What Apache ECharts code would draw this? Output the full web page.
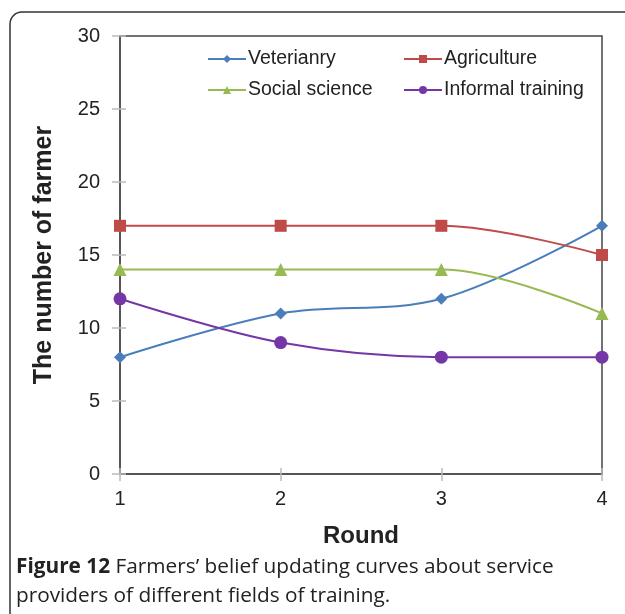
<!DOCTYPE html>
<html><head><meta charset="utf-8">
<script src="https://cdn.jsdelivr.net/npm/echarts@6/dist/echarts.min.js"></script>
<style>html,body{margin:0;padding:0;background:#fff}#c{width:625px;height:614px}</style>
</head><body><div id="c"></div>
<script>
const rounds = ['1','2','3','4'];
const veterinary = [8, 11, 12, 17];
const agriculture = [17, 17, 17, 15];
const socialScience = [14, 14, 14, 11];
const informalTraining = [12, 9, 8, 8];
const seriesNames = ['Veterianry','Agriculture','Social science','Informal training'];
const colors = ['#4a7ebb','#be4b48','#98b954','#7536a6'];
const symbols = ['diamond','rect','triangle','circle'];
const values = [veterinary, agriculture, socialScience, informalTraining];

const chart = echarts.init(document.getElementById('c'), null, {renderer:'canvas'});
const font = '"Liberation Sans", Arial, sans-serif';
const symSizes = {diamond:12, rect:12, triangle:13, circle:13};
const series = values.map((v,i)=>({
  name: seriesNames[i], type:'line', data:v, smooth:0.35,
  symbol: symbols[i], symbolSize: symSizes[symbols[i]],
  lineStyle:{color:colors[i], width:2}, itemStyle:{color:colors[i]}, z:3
}));
const legendText = {fontSize:19.5, color:'#222', fontFamily:font, padding:[0,0,0,-3]};
chart.setOption({
  animation:false,
  textStyle:{fontFamily:font},
  grid:{left:120, right:23, top:36, bottom:140, show:true, borderColor:'#444', borderWidth:1.5},
  legend:[
    {left:202, top:44, orient:'vertical', itemGap:11, itemWidth:38, itemHeight:10,
     data:['Veterianry','Social science'], textStyle:legendText},
    {left:398, top:44, orient:'vertical', itemGap:11, itemWidth:38, itemHeight:10,
     data:['Agriculture','Informal training'], textStyle:legendText}
  ],
  xAxis:[{
    type:'category', data:rounds, boundaryGap:false,
    name:'Round', nameLocation:'middle', nameGap:50,
    nameTextStyle:{fontSize:24, fontWeight:'bold', color:'#222', fontFamily:font},
    axisLine:{lineStyle:{color:'#555', width:2}},
    axisTick:{show:true, length:7, lineStyle:{color:'#bbb', width:1.5}},
    axisLabel:{fontSize:20, color:'#222', margin:15, fontFamily:font},
    splitLine:{show:false}
  },{
    type:'category', data:rounds, boundaryGap:false, position:'bottom',
    axisLine:{show:false}, axisTick:{show:true, inside:true, length:6, lineStyle:{color:'#bbb', width:1.5}},
    axisLabel:{show:false}
  }],
  yAxis:[{
    type:'value', min:0, max:30, interval:5,
    name:'The number of farmer', nameLocation:'middle', nameGap:63,
    nameTextStyle:{fontSize:25, fontWeight:'bold', color:'#222', fontFamily:font},
    axisLine:{show:true, lineStyle:{color:'#555', width:2}},
    axisTick:{show:true, length:8, lineStyle:{color:'#bbb', width:1.5}},
    axisLabel:{fontSize:20, color:'#222', margin:20, fontFamily:font},
    splitLine:{show:false}
  },{
    type:'value', min:0, max:30, interval:5, position:'left',
    axisLine:{show:false}, axisTick:{show:true, inside:true, length:6, lineStyle:{color:'#bbb', width:1.5}},
    axisLabel:{show:false}, splitLine:{show:false}
  }],
  graphic:[
    {type:'rect', shape:{x:10, y:12, width:640, height:640, r:12}, style:{fill:null, stroke:'#333', lineWidth:1.5}, z:-1},
    {type:'text', left:16, top:553, style:{
      text:'{b|Figure 12} Farmers\u2019 belief updating curves about service\nproviders of different fields of training.',
      font:'20.8px "Open Sans", sans-serif', fill:'#222', lineHeight:29,
      rich:{b:{fontWeight:'bold', fontSize:20.8, fontFamily:'"Open Sans"', fill:'#222'}}
    }}
  ],
  series: series
});
</script></body></html>
